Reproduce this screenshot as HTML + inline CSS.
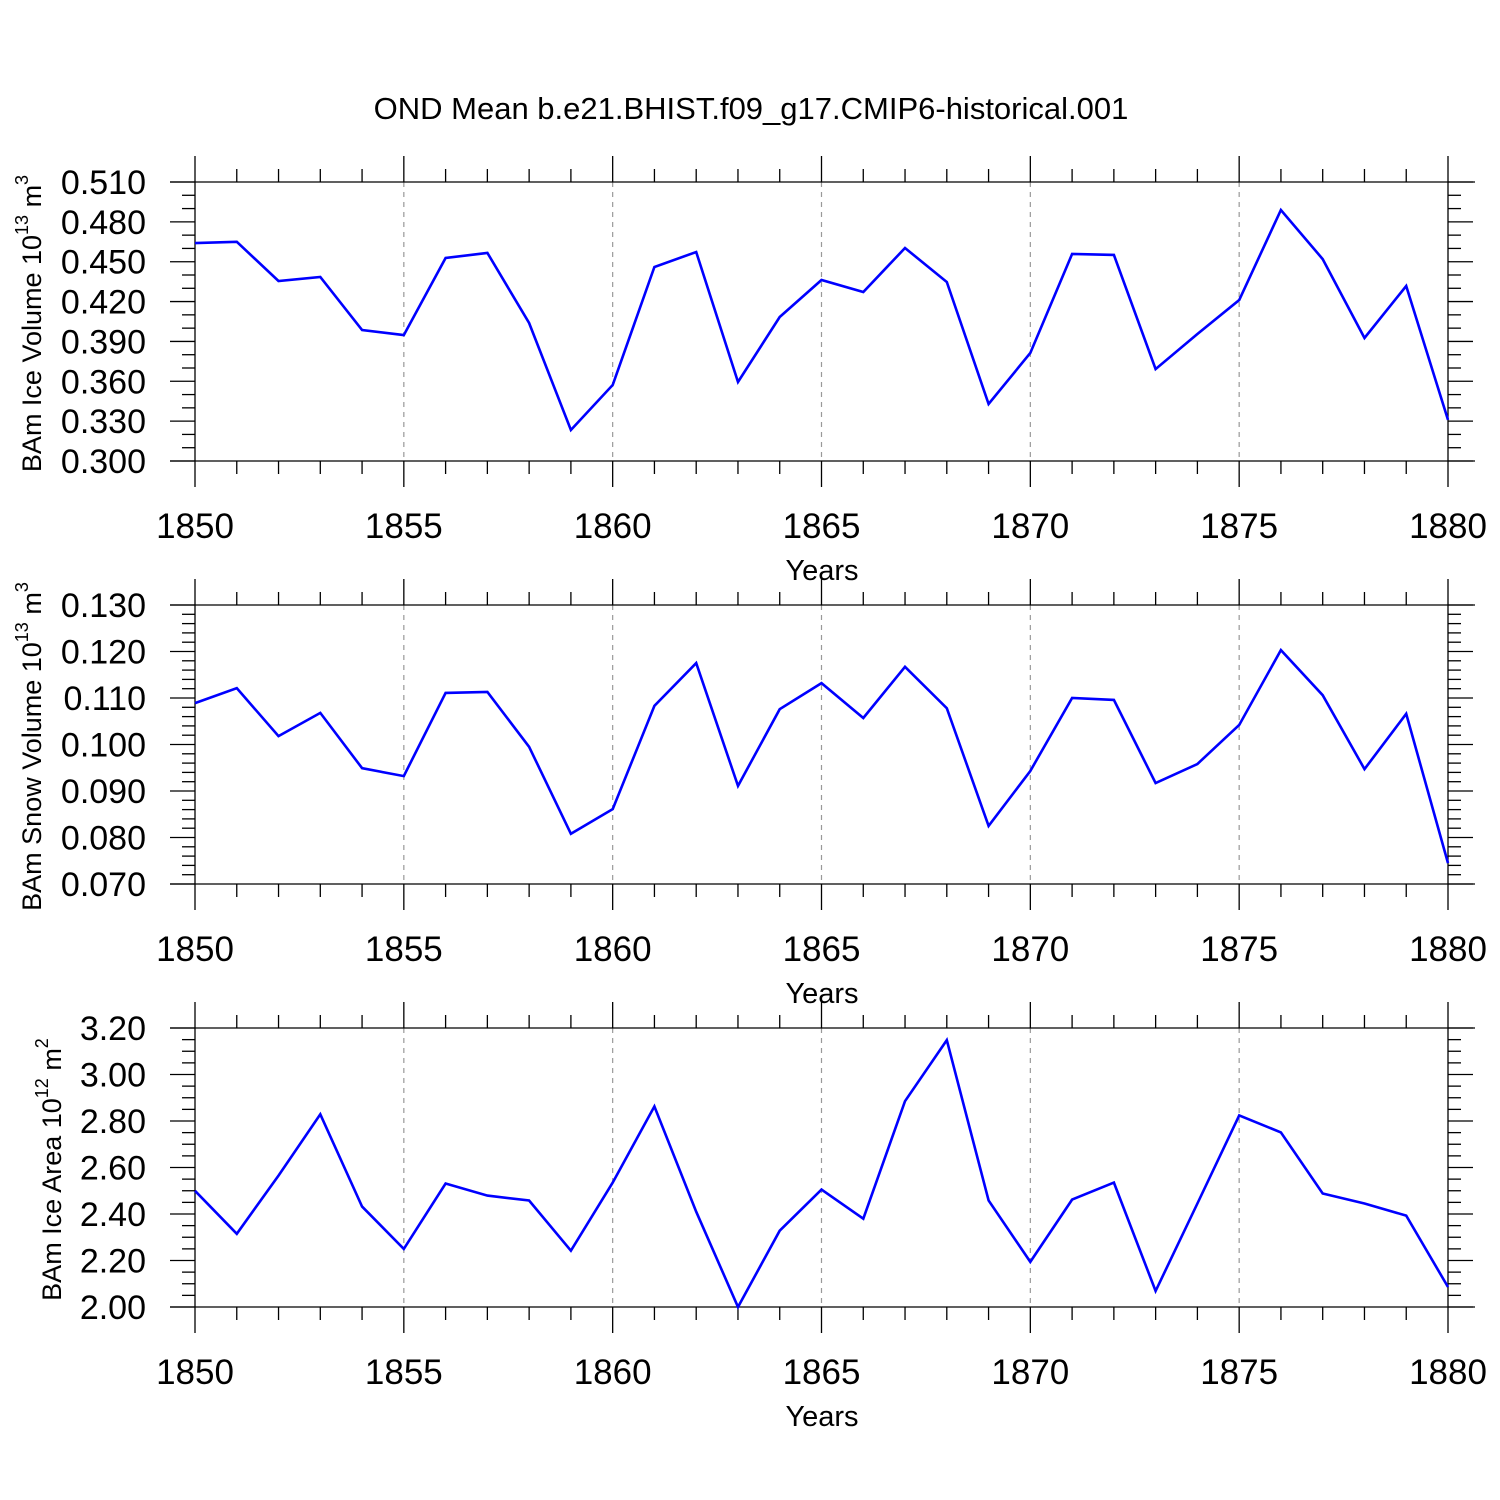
<!DOCTYPE html>
<html><head><meta charset="utf-8"><style>
body{margin:0;background:#fff}
svg{display:block;font-family:"Liberation Sans",sans-serif}
</style></head><body>
<svg id="c" width="1500" height="1500" xmlns="http://www.w3.org/2000/svg">
<text x="751" y="119" font-size="31" text-anchor="middle">OND Mean b.e21.BHIST.f09_g17.CMIP6-historical.001</text>
</svg>
<script>
const years = [1850,1851,1852,1853,1854,1855,1856,1857,1858,1859,1860,1861,1862,1863,1864,1865,1866,1867,1868,1869,1870,1871,1872,1873,1874,1875,1876,1877,1878,1879,1880];
const iceVolume = [0.464,0.465,0.4355,0.4385,0.3986,0.3948,0.4528,0.4566,0.4039,0.3233,0.3572,0.446,0.4573,0.3595,0.4084,0.4362,0.4272,0.4603,0.4347,0.3429,0.3813,0.4558,0.4551,0.3692,0.3956,0.4212,0.4889,0.452,0.3926,0.4317,0.3309];
const snowVolume = [0.1089,0.1121,0.1018,0.1068,0.0949,0.0932,0.1111,0.1113,0.0995,0.0808,0.0861,0.1083,0.1175,0.0911,0.1076,0.1132,0.1057,0.1167,0.1078,0.0825,0.0943,0.11,0.1096,0.0917,0.0958,0.1042,0.1203,0.1106,0.0947,0.1066,0.0745];
const iceArea = [2.50,2.315,2.565,2.829,2.432,2.25,2.531,2.479,2.458,2.242,2.535,2.863,2.41,2.0,2.328,2.505,2.38,2.885,3.148,2.458,2.194,2.462,2.535,2.069,2.445,2.824,2.751,2.488,2.445,2.393,2.086];
const xTicks = [1850,1855,1860,1865,1870,1875,1880];
const ticks1 = ["0.510","0.480","0.450","0.420","0.390","0.360","0.330","0.300"];
const ticks2 = ["0.130","0.120","0.110","0.100","0.090","0.080","0.070"];
const ticks3 = ["3.20","3.00","2.80","2.60","2.40","2.20","2.00"];

const svg=document.getElementById('c');
const NS='http://www.w3.org/2000/svg';
const X0=195,X1=1448;
const xs=y=>X0+(y-1850)/30*(X1-X0);
function mk(tag,attrs,parent){const e=document.createElementNS(NS,tag);for(const k in attrs)e.setAttribute(k,attrs[k]);(parent||svg).appendChild(e);return e;}
function line(g,x1,y1,x2,y2,st,w,dash){const l=mk('line',{x1,y1,x2,y2,stroke:st||'#000','stroke-width':w||1.3},g);if(dash)l.setAttribute('stroke-dasharray',dash);return l;}

function panel(id,top,vmin,vmax,minorStep,tickLabels,data,label,sup,unit){
  const H=279,bot=top+H;
  const ys=v=>bot-(v-vmin)/(vmax-vmin)*H;
  const g=mk('g',{});
  
  
  xTicks.forEach(t=>{if(t>1850&&t<1880)line(g,xs(t),top,xs(t),bot,'#999',1.2,'5,5');});
  line(g,170,top,1475,top);line(g,170,bot,1475,bot);
  line(g,X0,top,X0,bot);line(g,X1,top,X1,bot);
  for(let y=1850;y<=1880;y++){const major=y%5===0;const L=major?26:13;
    line(g,xs(y),top-L,xs(y),top);line(g,xs(y),bot,xs(y),bot+L);}
  xTicks.forEach(t=>{const tx=mk('text',{x:xs(t),y:bot+77,'font-size':35,'text-anchor':'middle'},g);tx.textContent=t;
    });
  const n=Math.round((vmax-vmin)/minorStep);
  const majorN=tickLabels.length-1;const per=n/majorN;
  for(let i=0;i<=n;i++){const yy=ys(vmin+i*minorStep);const major=i%per===0;const L=major?25:13;
    line(g,X0-L,yy,X0,yy);line(g,X1,yy,X1+L,yy);}
  tickLabels.forEach(lbl=>{const v=parseFloat(lbl);const tx=mk('text',{x:146,y:ys(v)+12,'font-size':34,'text-anchor':'end'},g);tx.textContent=lbl;
    });
  const pts=data.map((v,i)=>xs(years[i]).toFixed(1)+','+ys(v).toFixed(1)).join(' ');
  const pl=mk('polyline',{points:pts,fill:'none',stroke:'#0000ff','stroke-width':2.6,'stroke-linejoin':'miter'},g);
  
  
  const xt=mk('text',{x:822,y:bot+119,'font-size':29,'text-anchor':'middle'},g);xt.textContent='Years';
  
  const cy=(top+bot)/2+2;
  const yt=mk('text',{x:0,y:0,'font-size':27,'text-anchor':'middle',transform:`translate(${id==='ice-area-panel'?61:41},${cy}) rotate(-90)`},g);
  
  yt.appendChild(document.createTextNode(label+' 10'));
  const s=mk('tspan',{dy:-13,'font-size':18},yt);s.textContent=sup;
  const u=mk('tspan',{dy:13},yt);u.textContent=' m';
  const s2=mk('tspan',{dy:-13,'font-size':18},yt);s2.textContent=unit;
}
panel('ice-volume-panel',182,0.30,0.51,0.01,ticks1,iceVolume,'BAm Ice Volume','13','3');
panel('snow-volume-panel',605,0.07,0.13,0.002,ticks2,snowVolume,'BAm Snow Volume','13','3');
panel('ice-area-panel',1028,2.0,3.2,0.05,ticks3,iceArea,'BAm Ice Area','12','2');
</script>
</body></html>
